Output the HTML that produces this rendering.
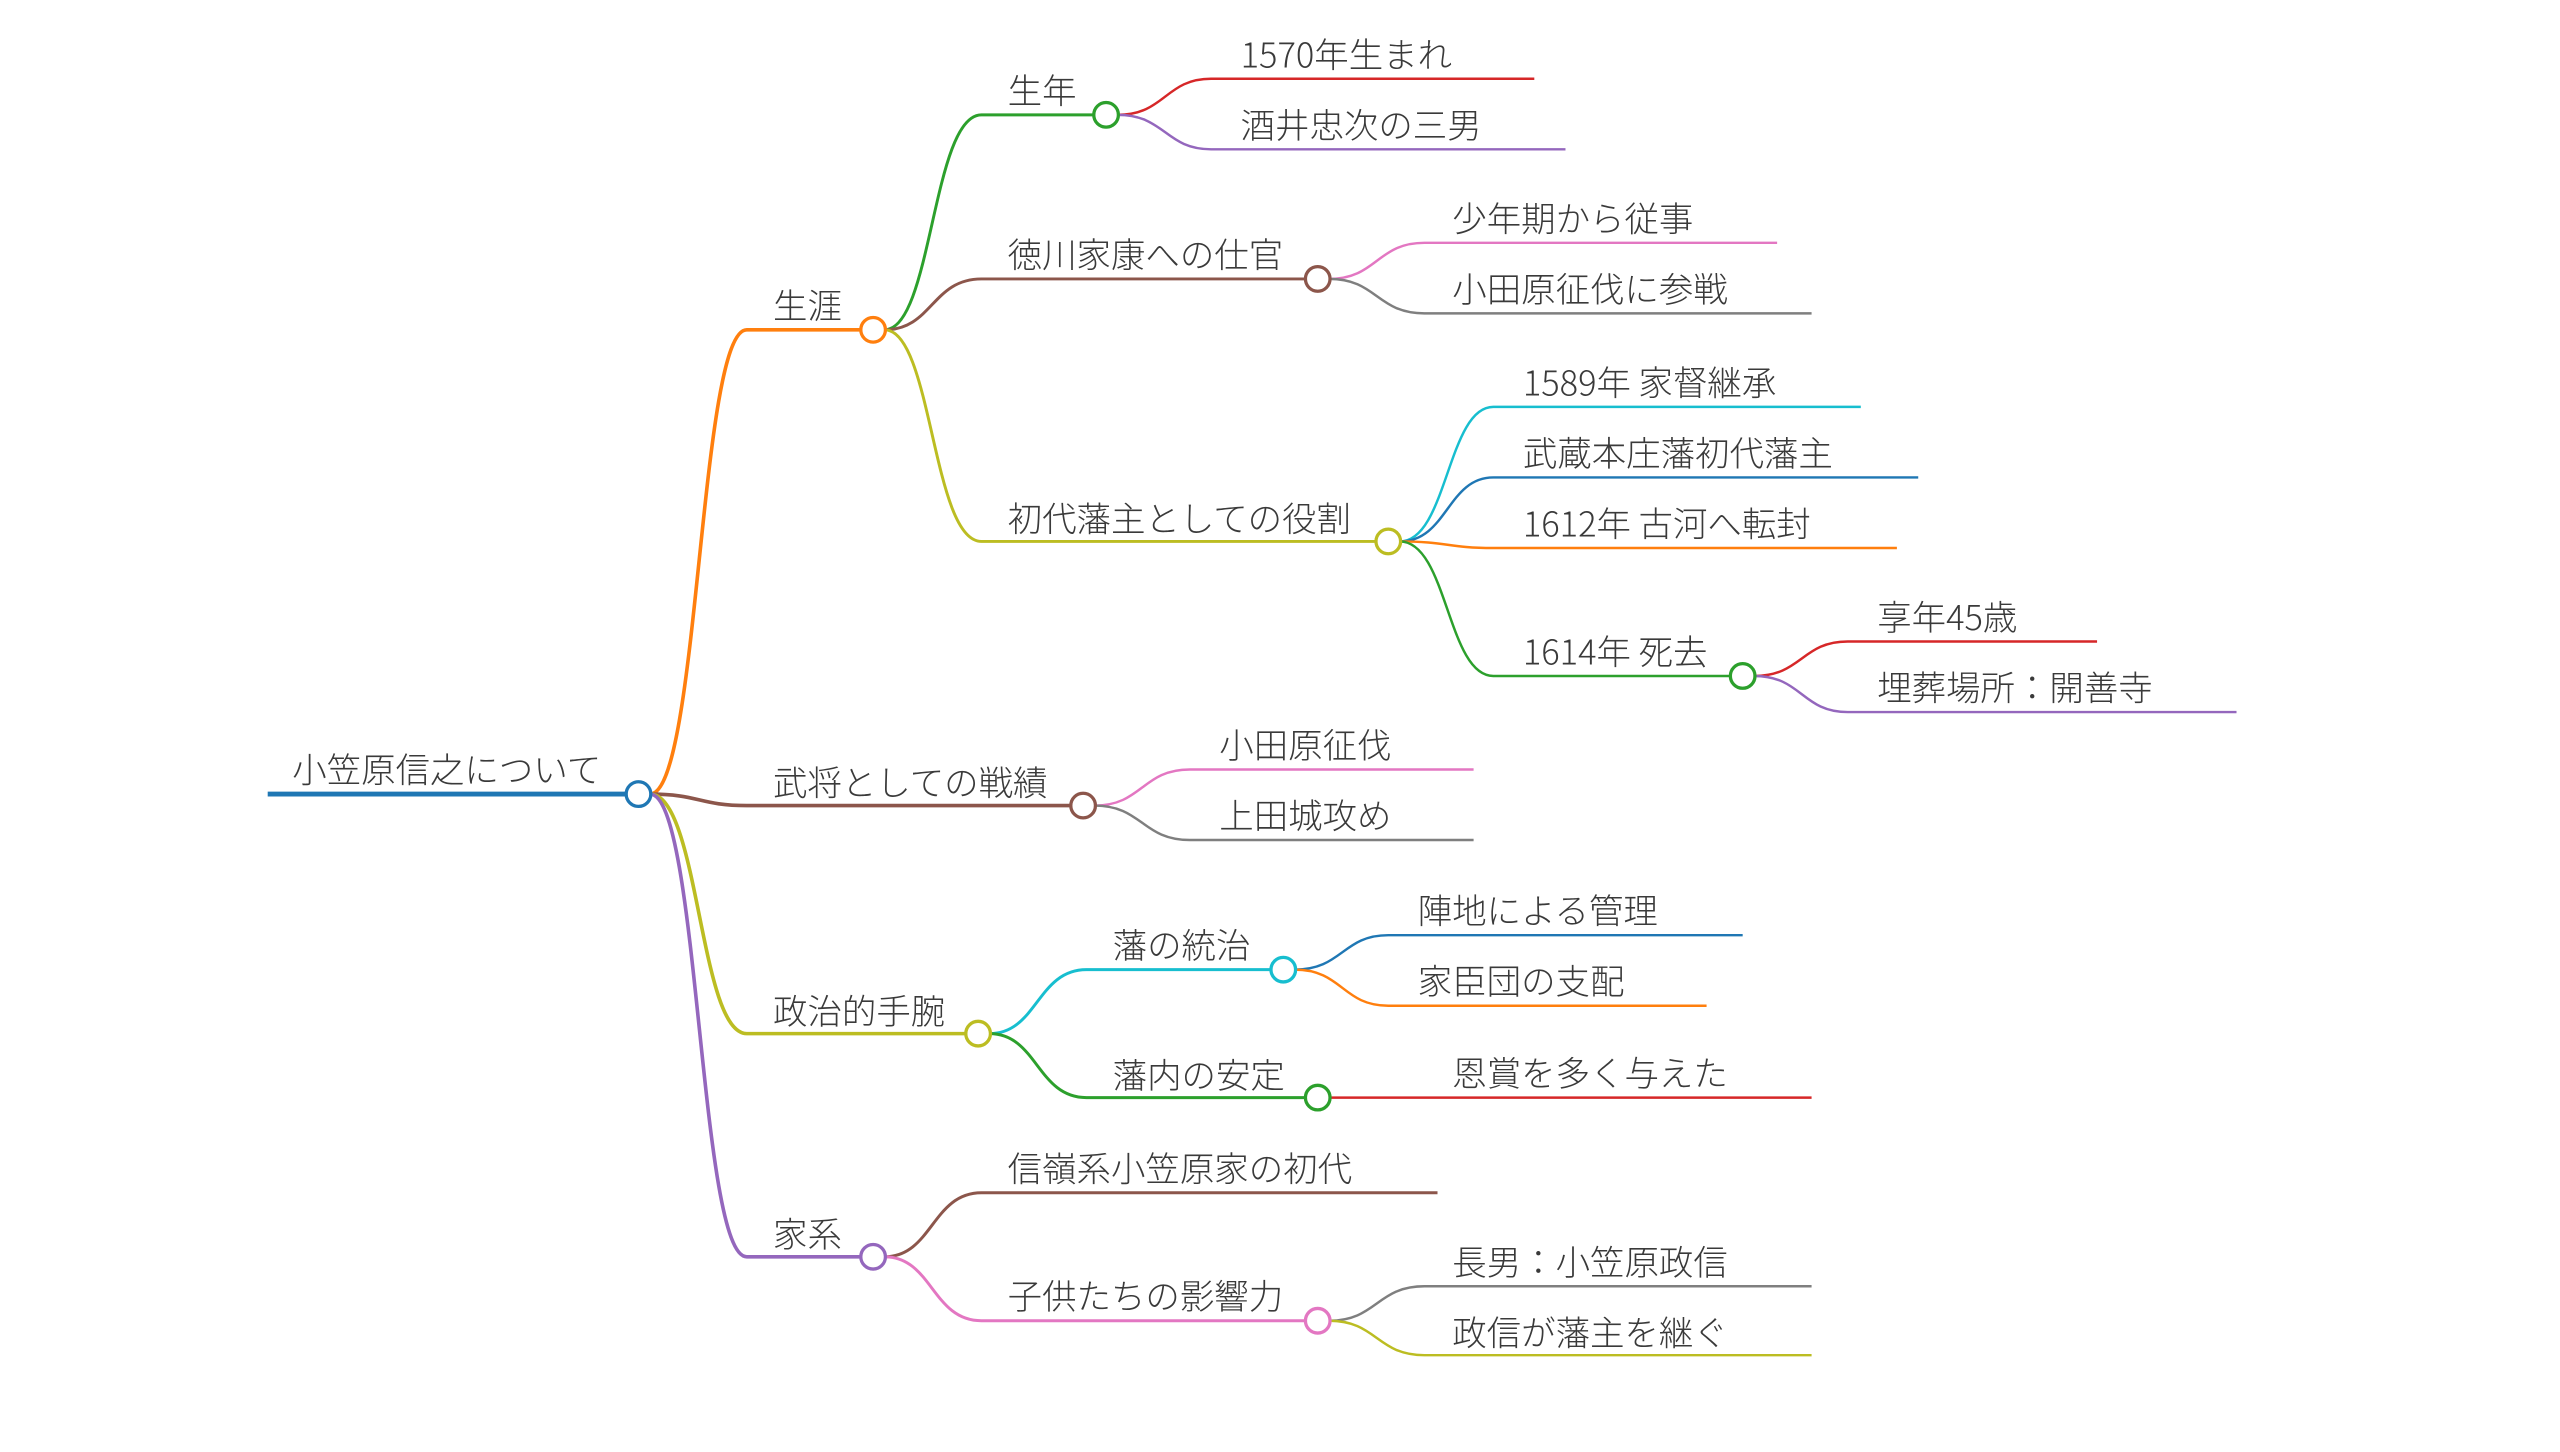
<!DOCTYPE html>
<html><head><meta charset="utf-8"><style>
html,body{margin:0;padding:0;background:#fff;width:2560px;height:1452px;overflow:hidden}
svg{display:block}
text{font-family:"Noto Sans CJK JP","Liberation Sans",sans-serif;font-size:21px;font-weight:300;fill:#3a3a3a}
path{fill:none}
circle{fill:#fff;stroke-width:2}
</style></head><body>
<svg width="2560" height="1452" viewBox="2 2 1560 885" xmlns="http://www.w3.org/2000/svg">
<!-- root -->
<path d="M165 486 H383" stroke="#1f77b4" stroke-width="3"/>
<text x="180" y="479">小笠原信之について</text>
<!-- level1 -->
<path d="M398 486 C428 486,428 203,457 203 H527" stroke="#ff7f0e" stroke-width="2.2"/>
<path d="M398 486 C428 486,428 493,457 493 H655" stroke="#8c564b" stroke-width="2.2"/>
<path d="M398 486 C428 486,428 632,457 632 H591" stroke="#bcbd22" stroke-width="2.2"/>
<path d="M398 486 C428 486,428 768,457 768 H527" stroke="#9467bd" stroke-width="2.2"/>
<text x="473" y="196">生涯</text>
<text x="473" y="487">武将としての戦績</text>
<text x="473" y="626">政治的手腕</text>
<text x="473" y="762">家系</text>
<!-- 生涯 children -->
<path d="M541 203 C570 203,570 72,600 72 H669" stroke="#2ca02c" stroke-width="1.8"/>
<path d="M541 203 C570 203,570 172,600 172 H798" stroke="#8c564b" stroke-width="1.8"/>
<path d="M541 203 C570 203,570 332,600 332 H841" stroke="#bcbd22" stroke-width="1.8"/>
<text x="616" y="65">生年</text>
<text x="616" y="165">徳川家康への仕官</text>
<text x="616" y="326">初代藩主としての役割</text>
<!-- 生年 leaves -->
<path d="M683 72 C712 72,712 50,740 50 H937" stroke="#d62728" stroke-width="1.5"/>
<path d="M683 72 C712 72,712 93,740 93 H956" stroke="#9467bd" stroke-width="1.5"/>
<text x="758" y="43">1570年生まれ</text>
<text x="758" y="86">酒井忠次の三男</text>
<!-- 徳川 leaves -->
<path d="M812 172 C841 172,841 150,870 150 H1085" stroke="#e377c2" stroke-width="1.5"/>
<path d="M812 172 C841 172,841 193,870 193 H1106" stroke="#7f7f7f" stroke-width="1.5"/>
<text x="887" y="143">少年期から従事</text>
<text x="887" y="186">小田原征伐に参戦</text>
<!-- 初代 children -->
<path d="M855 332 C884 332,884 250,912 250 H1136" stroke="#17becf" stroke-width="1.5"/>
<path d="M855 332 C884 332,884 293,912 293 H1171" stroke="#1f77b4" stroke-width="1.5"/>
<path d="M855 332 C884 332,884 336,912 336 H1158" stroke="#ff7f0e" stroke-width="1.5"/>
<path d="M855 332 C884 332,884 414,912 414 H1057" stroke="#2ca02c" stroke-width="1.5"/>
<text x="930" y="243">1589年 家督継承</text>
<text x="930" y="286">武蔵本庄藩初代藩主</text>
<text x="930" y="329">1612年 古河へ転封</text>
<text x="930" y="407">1614年 死去</text>
<path d="M1071 414 C1100 414,1100 393,1128 393 H1280" stroke="#d62728" stroke-width="1.5"/>
<path d="M1071 414 C1100 414,1100 436,1128 436 H1365" stroke="#9467bd" stroke-width="1.5"/>
<text x="1146" y="386">享年45歳</text>
<text x="1146" y="429">埋葬場所：開善寺</text>
<!-- 武将 leaves -->
<path d="M669 493 C698 493,698 471,727 471 H900" stroke="#e377c2" stroke-width="1.5"/>
<path d="M669 493 C698 493,698 514,727 514 H900" stroke="#7f7f7f" stroke-width="1.5"/>
<text x="745" y="464">小田原征伐</text>
<text x="745" y="507">上田城攻め</text>
<!-- 政治 children -->
<path d="M605 632 C634 632,634 593,664 593 H777" stroke="#17becf" stroke-width="1.8"/>
<path d="M605 632 C634 632,634 671,664 671 H798" stroke="#2ca02c" stroke-width="1.8"/>
<text x="680" y="586">藩の統治</text>
<text x="680" y="665">藩内の安定</text>
<path d="M791 593 C820 593,820 572,848 572 H1064" stroke="#1f77b4" stroke-width="1.5"/>
<path d="M791 593 C820 593,820 615,848 615 H1042" stroke="#ff7f0e" stroke-width="1.5"/>
<text x="866" y="565">陣地による管理</text>
<text x="866" y="608">家臣団の支配</text>
<path d="M812 671 H1106" stroke="#d62728" stroke-width="1.5"/>
<text x="887" y="664">恩賞を多く与えた</text>
<!-- 家系 children -->
<path d="M541 768 C570 768,570 729,600 729 H878" stroke="#8c564b" stroke-width="1.8"/>
<path d="M541 768 C570 768,570 807,600 807 H798" stroke="#e377c2" stroke-width="1.8"/>
<text x="616" y="722">信嶺系小笠原家の初代</text>
<text x="616" y="800">子供たちの影響力</text>
<path d="M812 807 C841 807,841 786,870 786 H1106" stroke="#7f7f7f" stroke-width="1.5"/>
<path d="M812 807 C841 807,841 828,870 828 H1106" stroke="#bcbd22" stroke-width="1.5"/>
<text x="887" y="779">長男：小笠原政信</text>
<text x="887" y="822">政信が藩主を継ぐ</text>
<!-- circles -->
<circle cx="391" cy="486" r="7.5" stroke="#1f77b4" stroke-width="2.2"/>
<circle cx="534" cy="203" r="7.5" stroke="#ff7f0e"/>
<circle cx="662" cy="493" r="7.5" stroke="#8c564b"/>
<circle cx="598" cy="632" r="7.5" stroke="#bcbd22"/>
<circle cx="534" cy="768" r="7.5" stroke="#9467bd"/>
<circle cx="676" cy="72" r="7.5" stroke="#2ca02c"/>
<circle cx="805" cy="172" r="7.5" stroke="#8c564b"/>
<circle cx="848" cy="332" r="7.5" stroke="#bcbd22"/>
<circle cx="1064" cy="414" r="7.5" stroke="#2ca02c"/>
<circle cx="784" cy="593" r="7.5" stroke="#17becf"/>
<circle cx="805" cy="671" r="7.5" stroke="#2ca02c"/>
<circle cx="805" cy="807" r="7.5" stroke="#e377c2"/>
</svg>
</body></html>
